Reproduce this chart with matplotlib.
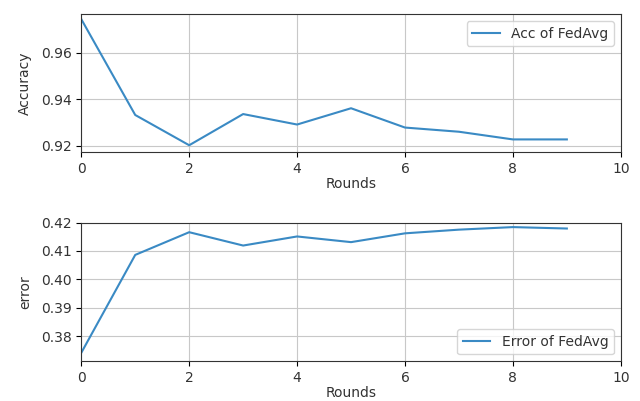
import matplotlib
matplotlib.use('Agg')
import matplotlib.pyplot as plt

rounds = [0, 1, 2, 3, 4, 5, 6, 7, 8, 9]
acc_fedavg = [0.9744, 0.9332, 0.9202, 0.9336, 0.9291, 0.9361, 0.9278, 0.9260, 0.9227, 0.9227]
err_fedavg = [0.3741, 0.4086, 0.4166, 0.4119, 0.4151, 0.4131, 0.4162, 0.4175, 0.4184, 0.4179]

plt.rcParams['font.size'] = 10
plt.rcParams['text.color'] = '#333333'
plt.rcParams['axes.labelcolor'] = '#333333'
plt.rcParams['xtick.labelcolor'] = '#333333'
plt.rcParams['ytick.labelcolor'] = '#333333'

fig = plt.figure(figsize=(6.4, 4.01), dpi=100)

# accuracy
ax1 = fig.add_axes([0.127, 0.621, 0.843, 0.344])
ax1.plot(rounds, acc_fedavg, color='#3a8ac4', label='Acc of FedAvg')
ax1.set_xlim(0, 10)
ax1.set_ylim(0.9173, 0.9766)
ax1.set_yticks([0.92, 0.94, 0.96])
ax1.set_xlabel('Rounds', labelpad=1)
ax1.set_ylabel('Accuracy', labelpad=6)
ax1.grid(True, color='#c8c8c8')
ax1.legend(loc='upper right')

# error
ax2 = fig.add_axes([0.127, 0.099, 0.843, 0.346])
ax2.plot(rounds, err_fedavg, color='#3a8ac4', label='Error of FedAvg')
ax2.set_xlim(0, 10)
ax2.set_ylim(0.3711, 0.42)
ax2.set_yticks([0.38, 0.39, 0.40, 0.41, 0.42])
ax2.set_xlabel('Rounds', labelpad=1)
ax2.set_ylabel('error', labelpad=6)
ax2.grid(True, color='#c8c8c8')
ax2.legend(loc='lower right')

for ax in (ax1, ax2):
    for s in ax.spines.values():
        s.set_color('#333333')

fig.savefig('out.png', dpi=100)
